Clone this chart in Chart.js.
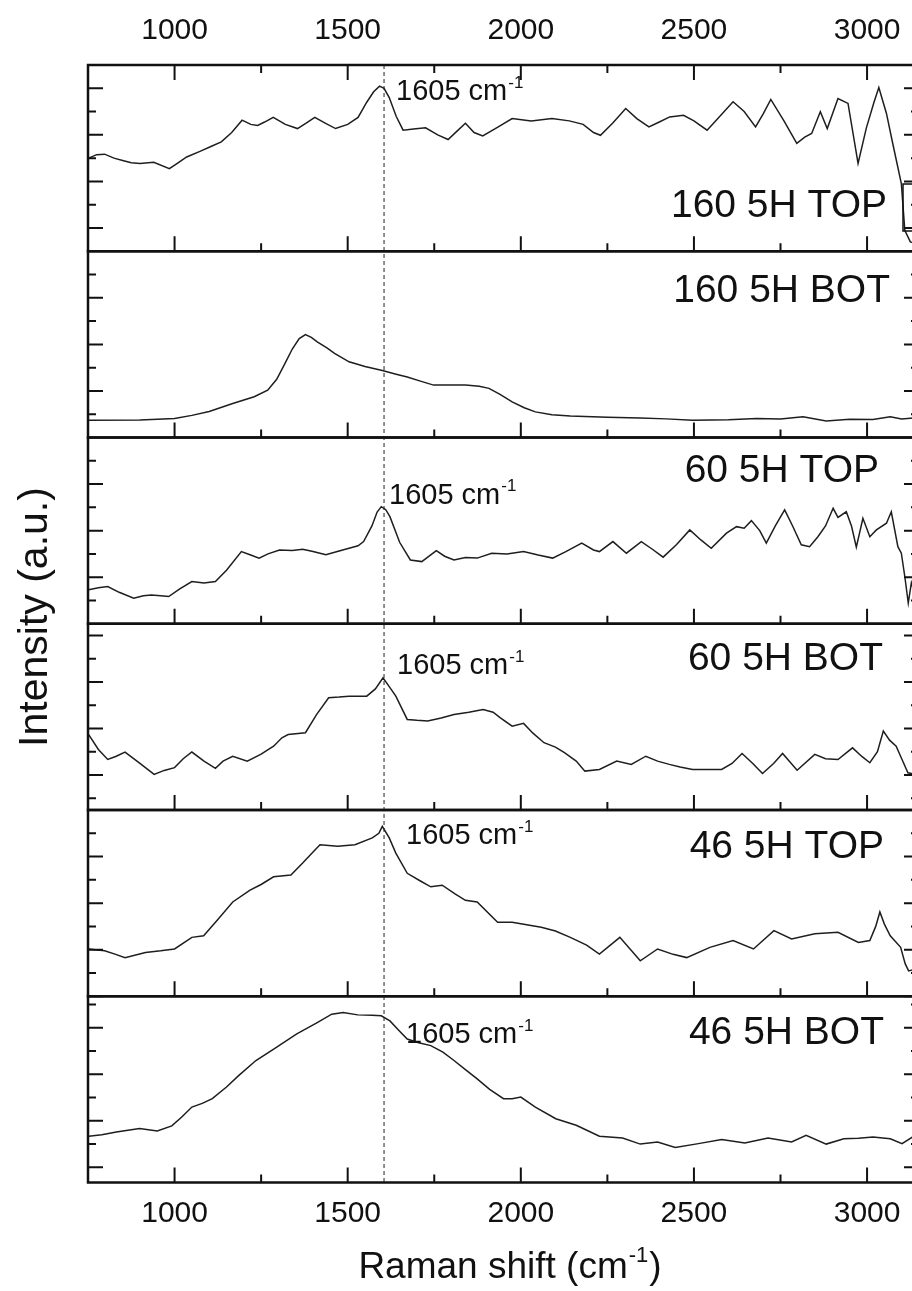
<!DOCTYPE html>
<html>
<head>
<meta charset="utf-8">
<title>Raman spectra</title>
<script src="https://cdn.jsdelivr.net/npm/chart.js@4.4.0/dist/chart.umd.min.js"></script>
<style>
  html, body { margin: 0; padding: 0; background: #fff; overflow: hidden; }
  #wrap { width: 930px; height: 1291px; }
</style>
</head>
<body>
<div id="wrap"><canvas id="ramanChart" width="930" height="1291"></canvas></div>
<script>
// x axis (Raman shift, cm-1)
var xTickValues = [1000, 1500, 2000, 2500, 3000];
var xMinorTicks = [750, 1250, 1750, 2250, 2750];
var peakShift = 1605;

var sampleNames = ['160 5H TOP', '160 5H BOT', '60 5H TOP', '60 5H BOT', '46 5H TOP', '46 5H BOT'];
var showPeakLabel = [true, false, true, true, true, true];

// 160 5H TOP
var shift160Top = [752, 775, 798, 825, 850, 875, 900, 940, 985, 1010, 1035, 1075, 1105, 1135, 1165, 1195, 1220, 1240, 1260, 1285, 1320, 1355, 1380, 1405, 1435, 1465, 1500, 1530, 1555, 1575, 1592, 1605, 1620, 1640, 1660, 1690, 1725, 1760, 1790, 1815, 1840, 1865, 1890, 1930, 1975, 2030, 2090, 2140, 2180, 2210, 2230, 2265, 2303, 2335, 2370, 2400, 2430, 2470, 2500, 2538, 2575, 2613, 2645, 2678, 2700, 2722, 2760, 2797, 2820, 2840, 2865, 2885, 2916, 2945, 2974, 2998, 3020, 3034, 3056, 3074, 3099, 3109, 3125, 3150];
var int160Top = [4.0, 4.15, 4.17, 4.0, 3.9, 3.8, 3.77, 3.82, 3.55, 3.8, 4.05, 4.3, 4.5, 4.7, 5.1, 5.63, 5.45, 5.4, 5.55, 5.75, 5.45, 5.27, 5.5, 5.75, 5.5, 5.27, 5.45, 5.75, 6.4, 6.85, 7.09, 7.0, 6.6, 5.8, 5.2, 5.25, 5.3, 5.0, 4.8, 5.15, 5.5, 5.1, 4.95, 5.3, 5.7, 5.6, 5.7, 5.6, 5.45, 5.1, 4.98, 5.5, 6.13, 5.7, 5.34, 5.55, 5.77, 5.84, 5.6, 5.2, 5.8, 6.42, 6.0, 5.34, 5.9, 6.52, 5.6, 4.63, 4.9, 5.06, 5.99, 5.27, 6.56, 6.35, 3.77, 5.3, 6.4, 7.03, 5.92, 4.64, 2.91, 0.9, 0.4, 0.3];

// 160 5H BOT
var shift160Bot = [752, 900, 1000, 1050, 1100, 1168, 1230, 1269, 1295, 1319, 1340, 1360, 1378, 1395, 1412, 1440, 1462, 1504, 1550, 1597, 1640, 1672, 1710, 1748, 1800, 1840, 1880, 1908, 1940, 1975, 2010, 2042, 2090, 2143, 2250, 2345, 2420, 2496, 2600, 2681, 2750, 2815, 2882, 2950, 3017, 3067, 3100, 3150];
var int160Bot = [0.74, 0.75, 0.82, 0.95, 1.12, 1.46, 1.75, 2.03, 2.5, 3.18, 3.8, 4.25, 4.42, 4.3, 4.11, 3.85, 3.61, 3.25, 3.05, 2.89, 2.72, 2.6, 2.42, 2.25, 2.25, 2.25, 2.2, 2.11, 1.85, 1.53, 1.28, 1.1, 0.98, 0.92, 0.87, 0.84, 0.8, 0.74, 0.76, 0.82, 0.8, 0.89, 0.71, 0.78, 0.77, 0.89, 0.8, 0.86];

// 60 5H TOP
var shift60Top = [752, 780, 807, 840, 882, 910, 933, 960, 983, 1015, 1050, 1085, 1118, 1150, 1193, 1220, 1244, 1270, 1303, 1340, 1370, 1400, 1437, 1470, 1504, 1530, 1546, 1570, 1585, 1597, 1610, 1622, 1650, 1681, 1714, 1756, 1780, 1807, 1840, 1874, 1916, 1960, 2008, 2050, 2092, 2130, 2176, 2210, 2227, 2266, 2305, 2348, 2380, 2411, 2450, 2488, 2520, 2550, 2594, 2623, 2645, 2666, 2690, 2709, 2735, 2762, 2785, 2810, 2834, 2858, 2880, 2902, 2916, 2940, 2955, 2969, 2988, 3008, 3027, 3056, 3070, 3089, 3099, 3109, 3119, 3128, 3140, 3150];
var int60Top = [1.46, 1.55, 1.6, 1.35, 1.1, 1.2, 1.24, 1.2, 1.17, 1.5, 1.81, 1.75, 1.81, 2.3, 3.1, 2.95, 2.82, 3.0, 3.17, 3.15, 3.2, 3.1, 2.96, 3.1, 3.24, 3.35, 3.53, 4.2, 4.8, 5.03, 4.9, 4.6, 3.5, 2.74, 2.67, 3.14, 2.9, 2.74, 2.85, 2.82, 3.03, 3.0, 3.1, 2.95, 2.82, 3.1, 3.46, 3.17, 3.1, 3.53, 3.03, 3.53, 3.2, 2.86, 3.4, 4.03, 3.6, 3.24, 3.89, 4.17, 4.1, 4.43, 4.0, 3.46, 4.2, 4.89, 4.2, 3.39, 3.31, 3.74, 4.2, 4.96, 4.57, 4.81, 4.2, 3.29, 4.53, 3.74, 4.03, 4.32, 4.81, 3.31, 3.03, 2.03, 0.89, 1.76, 1.2, 1.0];

// 60 5H BOT
var shift60Bot = [752, 780, 807, 830, 857, 900, 941, 970, 1000, 1025, 1050, 1085, 1118, 1140, 1168, 1210, 1250, 1286, 1310, 1328, 1378, 1410, 1445, 1475, 1504, 1555, 1580, 1602, 1620, 1639, 1672, 1700, 1731, 1770, 1807, 1850, 1891, 1920, 1941, 1975, 2008, 2035, 2067, 2100, 2126, 2160, 2185, 2227, 2277, 2319, 2361, 2395, 2429, 2460, 2496, 2540, 2580, 2610, 2639, 2670, 2698, 2730, 2756, 2798, 2849, 2880, 2916, 2958, 2985, 3008, 3030, 3047, 3065, 3084, 3100, 3118, 3150];
var int60Bot = [3.24, 2.6, 2.17, 2.3, 2.49, 2.0, 1.53, 1.7, 1.82, 2.2, 2.49, 2.1, 1.79, 2.1, 2.31, 2.1, 2.4, 2.74, 3.1, 3.24, 3.32, 4.1, 4.82, 4.85, 4.89, 4.89, 5.2, 5.68, 5.3, 4.89, 3.89, 3.85, 3.82, 3.95, 4.1, 4.2, 4.32, 4.2, 3.96, 3.6, 3.72, 3.3, 2.89, 2.7, 2.46, 2.1, 1.67, 1.74, 2.1, 1.96, 2.31, 2.1, 1.96, 1.85, 1.74, 1.74, 1.74, 2.0, 2.43, 2.0, 1.57, 2.0, 2.43, 1.71, 2.39, 2.2, 2.17, 2.67, 2.3, 2.03, 2.5, 3.39, 3.0, 2.74, 2.2, 1.6, 1.5];

// 46 5H TOP
var shift46Top = [752, 798, 830, 857, 916, 960, 1000, 1050, 1084, 1125, 1168, 1218, 1250, 1286, 1336, 1370, 1400, 1420, 1471, 1521, 1571, 1590, 1600, 1620, 1639, 1672, 1710, 1740, 1773, 1810, 1840, 1874, 1933, 1975, 2059, 2100, 2143, 2190, 2227, 2286, 2345, 2395, 2440, 2479, 2546, 2613, 2672, 2731, 2782, 2849, 2916, 2975, 3008, 3025, 3037, 3050, 3067, 3097, 3110, 3120, 3150];
var int46Top = [2.03, 1.95, 1.8, 1.66, 1.88, 1.95, 2.03, 2.53, 2.6, 3.3, 4.05, 4.56, 4.8, 5.13, 5.21, 5.72, 6.2, 6.51, 6.44, 6.51, 6.8, 7.0, 7.3, 6.8, 6.15, 5.28, 4.95, 4.7, 4.77, 4.4, 4.12, 4.05, 3.18, 3.18, 2.96, 2.8, 2.53, 2.2, 1.81, 2.53, 1.52, 2.03, 1.8, 1.66, 2.1, 2.39, 2.03, 2.82, 2.46, 2.68, 2.75, 2.31, 2.39, 3.0, 3.62, 3.1, 2.6, 2.1, 1.4, 1.09, 1.2];

// 46 5H BOT
var shift46Bot = [752, 790, 832, 870, 899, 950, 992, 1020, 1050, 1080, 1109, 1150, 1185, 1235, 1294, 1353, 1412, 1454, 1487, 1529, 1570, 1597, 1622, 1650, 1672, 1705, 1740, 1775, 1807, 1840, 1874, 1910, 1950, 1975, 2000, 2042, 2101, 2160, 2227, 2294, 2345, 2395, 2446, 2513, 2580, 2647, 2714, 2782, 2824, 2882, 2933, 2975, 3017, 3067, 3101, 3131, 3150];
var int46Bot = [1.99, 2.05, 2.17, 2.25, 2.32, 2.21, 2.43, 2.8, 3.24, 3.4, 3.6, 4.1, 4.59, 5.24, 5.8, 6.38, 6.87, 7.23, 7.3, 7.2, 7.18, 7.16, 6.94, 6.5, 6.16, 6.0, 5.88, 5.6, 5.24, 4.85, 4.45, 4.0, 3.6, 3.6, 3.67, 3.24, 2.74, 2.46, 1.99, 1.91, 1.65, 1.74, 1.5, 1.67, 1.85, 1.7, 1.91, 1.74, 2.03, 1.65, 1.88, 1.9, 1.95, 1.88, 1.67, 1.95, 1.9];

var allShifts = [shift160Top, shift160Bot, shift60Top, shift60Bot, shift46Top, shift46Bot];
var allIntensity = [int160Top, int160Bot, int60Top, int60Bot, int46Top, int46Bot];

// where each panel's minor/major y ticks start (a.u.)
var yTickStart = [1, 1, 1, 0.5, 0, 0.65];
var yFirstIsMajor = [true, false, false, false, true, true];

// label placement (px offsets from the panel top / peak line)
var nameRight = [887, 890, 879, 883, 884, 884];
var nameBase = [152, 51, 44, 46, 48, 48];
var peakDx = [12, 5, 5, 13, 22, 22];
var peakBase = [35, 0, 66, 50, 34, 47];

var FONT = "'Liberation Sans', Arial, Helvetica, sans-serif";
var INK = '#111';

function plainTick(v) { return String(v); }

var datasets = [];
var scales = {
    x: {
        type: 'linear', position: 'bottom', min: 750, max: 3150,
        afterBuildTicks: function (s) { s.ticks = xTickValues.map(function (v) { return { value: v }; }); },
        ticks: { font: { family: FONT, size: 30 }, color: INK, padding: 13, maxRotation: 0, autoSkip: false, callback: plainTick },
        grid: { display: false, drawTicks: false },
        border: { display: false },
        afterFit: function (s) { s.height = 108.5; }
    },
    x2: {
        type: 'linear', position: 'top', min: 750, max: 3150,
        afterBuildTicks: function (s) { s.ticks = xTickValues.map(function (v) { return { value: v }; }); },
        ticks: { font: { family: FONT, size: 30 }, color: INK, padding: 16, maxRotation: 0, autoSkip: false, callback: plainTick },
        grid: { display: false, drawTicks: false },
        border: { display: false },
        afterFit: function (s) { s.height = 65; }
    }
};

for (var i = 0; i < sampleNames.length; i++) {
    var pts = [];
    for (var j = 0; j < allShifts[i].length; j++) {
        pts.push({ x: allShifts[i][j], y: allIntensity[i][j] });
    }
    datasets.push({
        label: sampleNames[i],
        data: pts,
        xAxisID: 'x',
        yAxisID: 'p' + i,
        borderColor: '#1e1e1e',
        borderWidth: 1.5,
        pointRadius: 0,
        tension: 0,
        fill: false
    });
    scales['p' + i] = {
        type: 'linear', position: 'left',
        stack: 'panels', stackWeight: 1, weight: 6 - i,
        min: 0, max: 8,
        ticks: { display: false },
        grid: { display: false, drawTicks: false },
        border: { display: false },
        afterFit: function (s) { s.width = 0; }
    };
}

function sup(ctx, base, exp, x, y, size) {
    ctx.font = size + 'px ' + FONT;
    ctx.fillText(base, x, y);
    var w = ctx.measureText(base).width;
    ctx.font = Math.round(size * 0.6) + 'px ' + FONT;
    ctx.fillText(exp, x + w + 1, y - size * 0.42);
    return w + 1 + ctx.measureText(exp).width;
}

var framePlugin = {
    id: 'framePlugin',
    afterDatasetsDraw: function (chart) {
        var ctx = chart.ctx, area = chart.chartArea, xs = chart.scales.x;
        var k, v, px, s;
        ctx.save();

        // dashed line at the 1605 band
        var xp = xs.getPixelForValue(peakShift);
        ctx.strokeStyle = '#222';
        ctx.lineWidth = 1;
        ctx.setLineDash([4, 3]);
        ctx.beginPath();
        ctx.moveTo(xp, area.top);
        ctx.lineTo(xp, area.bottom);
        ctx.stroke();
        ctx.setLineDash([]);

        ctx.strokeStyle = INK;
        ctx.fillStyle = INK;
        for (var i = 0; i < sampleNames.length; i++) {
            s = chart.scales['p' + i];
            // panel box
            ctx.lineWidth = 2.5;
            ctx.strokeRect(area.left, s.top, area.right - area.left, s.bottom - s.top);

            // y ticks, both sides, pointing in
            ctx.lineWidth = 2;
            ctx.beginPath();
            for (v = yTickStart[i], k = 0; v < 7.99; v += 1, k++) {
                var big = (k % 2 === 0) === yFirstIsMajor[i];
                var len = big ? 15 : 8;
                var yp = s.getPixelForValue(v);
                ctx.moveTo(area.left, yp); ctx.lineTo(area.left + len, yp);
                ctx.moveTo(area.right, yp); ctx.lineTo(area.right - len, yp);
            }
            // x ticks at the bottom of each panel, pointing up
            xTickValues.forEach(function (t) {
                px = xs.getPixelForValue(t);
                ctx.moveTo(px, s.bottom); ctx.lineTo(px, s.bottom - 15);
                if (i === 0) { ctx.moveTo(px, s.top); ctx.lineTo(px, s.top + 15); }
            });
            xMinorTicks.forEach(function (t) {
                px = xs.getPixelForValue(t);
                ctx.moveTo(px, s.bottom); ctx.lineTo(px, s.bottom - 8);
                if (i === 0) { ctx.moveTo(px, s.top); ctx.lineTo(px, s.top + 8); }
            });
            ctx.stroke();

            // sample name
            ctx.textAlign = 'right';
            ctx.textBaseline = 'alphabetic';
            ctx.font = '39px ' + FONT;
            ctx.fillText(sampleNames[i], nameRight[i], s.top + nameBase[i]);

            // peak label
            if (showPeakLabel[i]) {
                ctx.textAlign = 'left';
                sup(ctx, '1605 cm', '-1', xp + peakDx[i], s.top + peakBase[i], 29);
            }
        }

        // cut-off legend box at the right of the top panel
        s = chart.scales.p0;
        ctx.lineWidth = 1.5;
        ctx.strokeRect(903, s.top + 119, 40, 47);

        // axis titles
        ctx.textAlign = 'left';
        ctx.textBaseline = 'alphabetic';
        ctx.font = '37px ' + FONT;
        var w1 = ctx.measureText('Raman shift (cm').width;
        ctx.font = '22px ' + FONT;
        var w2 = ctx.measureText('-1').width;
        ctx.font = '37px ' + FONT;
        var w3 = ctx.measureText(')').width;
        var x0 = 510 - (w1 + w2 + w3 + 2) / 2;
        ctx.fillText('Raman shift (cm', x0, 1278);
        ctx.font = '22px ' + FONT;
        ctx.fillText('-1', x0 + w1 + 1, 1262);
        ctx.font = '37px ' + FONT;
        ctx.fillText(')', x0 + w1 + w2 + 2, 1278);

        ctx.translate(47, 617);
        ctx.rotate(-Math.PI / 2);
        ctx.textAlign = 'center';
        ctx.font = '41px ' + FONT;
        ctx.fillText('Intensity (a.u.)', 0, 0);
        ctx.restore();
    }
};

var ctx = document.getElementById('ramanChart').getContext('2d');
var ramanChart = new Chart(ctx, {
    type: 'line',
    data: { datasets: datasets },
    options: {
        responsive: false,
        animation: false,
        devicePixelRatio: 1,
        layout: { padding: { left: 88, right: 11, top: 0, bottom: 0 } },
        plugins: { legend: { display: false }, tooltip: { enabled: false } },
        scales: scales
    },
    plugins: [framePlugin]
});
</script>
</body>
</html>
